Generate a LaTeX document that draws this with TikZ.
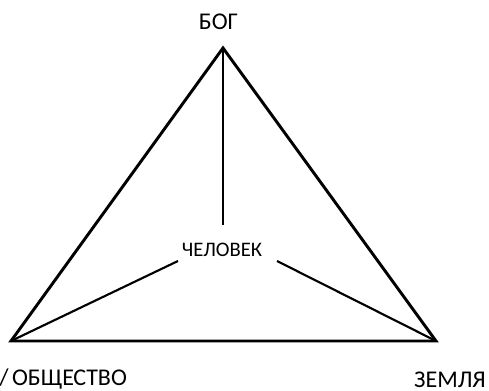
\documentclass[tikz,border=0pt]{standalone}
\usepackage{fontspec}
\setmainfont{Carlito}
\begin{document}
\begin{tikzpicture}[x=0.75pt, y=-0.75pt,
        side/.style  = {line width=2.2pt, line join=miter},
        spoke/.style = {line width=1.6pt},
        label/.style = {inner sep=0pt, font=\fontsize{18}{20}\selectfont}]
        \useasboundingbox (0,0) rectangle (489,391);

        % corners of the triangle
        \coordinate (top)   at (223, 48);
        \coordinate (left)  at ( 11,341);
        \coordinate (right) at (436,341);

        % labels
        \node[label]               (bog)    at (218.5, 21.5) {БОГ};
        \node[label, anchor = west] (people) at ( -1.0,379.5) {/\kern0.15em ОБЩЕСТВО};
        \node[label]               (earth)  at (450.0,379.5) {ЗЕМЛЯ};
        \node[label, font=\fontsize{15.5}{18}\selectfont] (man) at (222.0,250.0) {ЧЕЛОВЕК};

        % free ends of the spokes, round the man
        \coordinate (manN) at (223,225);
        \coordinate (manW) at (178,261);
        \coordinate (manE) at (277,261);

        \draw[side]  (top) -- (left) -- (right) -- cycle;
        \draw[spoke] (top)  -- (manN);
        \draw[spoke] (left) -- (manW);
        \draw[spoke] (manE) -- (right);
    \end{tikzpicture}
\end{document}
